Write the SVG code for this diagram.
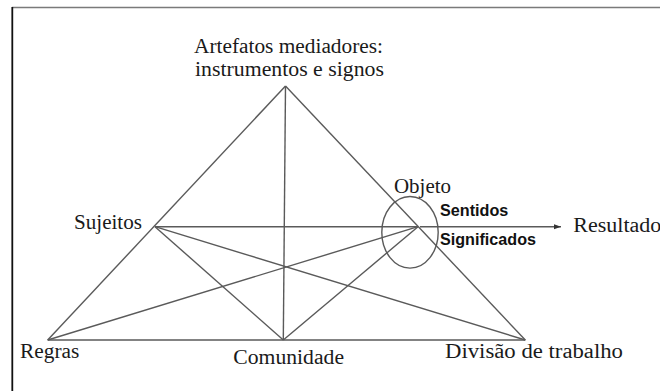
<svg xmlns="http://www.w3.org/2000/svg" width="660" height="391" viewBox="0 0 660 391">
<style>
.ln{stroke:#5a5a5a;stroke-width:1.4;fill:none}
.t{font-family:'Liberation Serif','Times New Roman',serif;font-size:20.5px;fill:#1a1a1a}
.b{font-family:'Liberation Sans',Arial,sans-serif;font-size:16.5px;font-weight:bold;fill:#111}
</style>
<defs>
<marker id="ah" markerWidth="8" markerHeight="6" refX="7" refY="3" orient="auto" markerUnits="userSpaceOnUse">
<path d="M0,0.5 L7,3 L0,5.5 Z" fill="#333"/>
</marker>
</defs>
<rect width="660" height="391" fill="#fff"/>
<g id="frame">
<line x1="12" y1="7.5" x2="660" y2="7.5" stroke="#7a7a7a" stroke-width="1.6"/>
<line x1="12.3" y1="7" x2="12.3" y2="391" stroke="#111" stroke-width="1.8"/>
</g>
<g id="connectors">
<line class="ln" x1="285.5" y1="86" x2="47.7" y2="340"/>
<line class="ln" x1="285.5" y1="86" x2="525.3" y2="340"/>
<line class="ln" x1="47.7" y1="340" x2="525.3" y2="340"/>
<line class="ln" x1="285.5" y1="86" x2="283.3" y2="340"/>
<line class="ln" x1="155" y1="226.7" x2="418" y2="226.7"/>
<line class="ln" x1="155" y1="226.7" x2="283.3" y2="340"/>
<line class="ln" x1="155" y1="226.7" x2="525.3" y2="340"/>
<line class="ln" x1="418" y1="226.7" x2="47.7" y2="340"/>
<line class="ln" x1="418" y1="226.7" x2="283.3" y2="340"/>
<line class="ln" x1="420" y1="226.7" x2="561" y2="226.7" marker-end="url(#ah)"/>
<ellipse class="ln" cx="410" cy="232.3" rx="28.2" ry="35.8"/>
</g>
<g id="node-artefatos">
<text class="t" x="194" y="52.5" textLength="189" lengthAdjust="spacingAndGlyphs">Artefatos mediadores:</text>
<text class="t" x="195" y="76" textLength="189" lengthAdjust="spacingAndGlyphs">instrumentos e signos</text>
</g>
<g id="node-sujeitos">
<text class="t" x="74" y="228.8" textLength="68" lengthAdjust="spacingAndGlyphs">Sujeitos</text>
</g>
<g id="node-objeto">
<text class="t" x="394" y="192.5" textLength="57" lengthAdjust="spacingAndGlyphs">Objeto</text>
<text class="b" x="440" y="215.5" textLength="68.3" lengthAdjust="spacingAndGlyphs">Sentidos</text>
<text class="b" x="440" y="245" textLength="96" lengthAdjust="spacingAndGlyphs">Significados</text>
</g>
<g id="node-resultado">
<text class="t" x="573.3" y="231.7" textLength="88" lengthAdjust="spacingAndGlyphs">Resultado</text>
</g>
<g id="node-regras">
<text class="t" x="20" y="358.3" textLength="59.3" lengthAdjust="spacingAndGlyphs">Regras</text>
</g>
<g id="node-comunidade">
<text class="t" x="233.3" y="364" textLength="110.7" lengthAdjust="spacingAndGlyphs">Comunidade</text>
</g>
<g id="node-divisao">
<text class="t" x="445" y="357.7" textLength="178" lengthAdjust="spacingAndGlyphs">Divisão de trabalho</text>
</g>
</svg>
